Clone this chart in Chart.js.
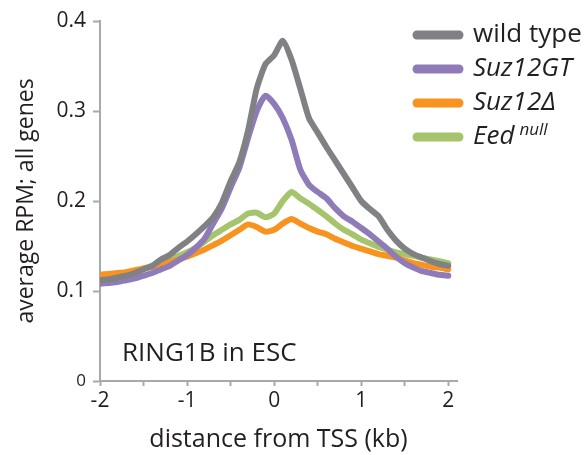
<!DOCTYPE html>
<html>
<head>
<meta charset="utf-8">
<script src="https://cdn.jsdelivr.net/npm/chart.js@4/dist/chart.umd.min.js"></script>
<style>
html,body{margin:0;padding:0;background:#fff;}
#wrap{position:relative;width:587px;height:455px;}
</style>
</head>
<body>
<div id="wrap"><canvas id="c" width="587" height="455"></canvas></div>
<script>
// distance from TSS (kb)
const positions = [-2.0,-1.9,-1.8,-1.7,-1.6,-1.5,-1.4,-1.3,-1.2,-1.1,-1.0,-0.9,-0.8,-0.7,-0.6,-0.5,-0.4,-0.3,-0.2,-0.1,0.0,0.1,0.2,0.3,0.4,0.5,0.6,0.7,0.8,0.9,1.0,1.1,1.2,1.3,1.4,1.5,1.6,1.7,1.8,1.9,2.0];
const seriesNames = ["wild type","Suz12GT","Suz12\u0394","Eed"];
const wildType = [0.112,0.113,0.115,0.117,0.120,0.124,0.128,0.135,0.140,0.148,0.155,0.163,0.172,0.182,0.198,0.222,0.243,0.278,0.325,0.352,0.362,0.378,0.357,0.325,0.292,0.276,0.260,0.245,0.230,0.215,0.200,0.191,0.183,0.168,0.156,0.147,0.141,0.137,0.133,0.130,0.128];
const suz12GT = [0.108,0.109,0.110,0.112,0.114,0.117,0.120,0.124,0.128,0.134,0.140,0.148,0.158,0.175,0.192,0.215,0.237,0.270,0.300,0.317,0.308,0.292,0.268,0.235,0.218,0.210,0.203,0.192,0.183,0.177,0.170,0.163,0.155,0.147,0.138,0.131,0.126,0.122,0.120,0.118,0.117];
const suz12Delta = [0.118,0.119,0.120,0.121,0.123,0.125,0.127,0.129,0.132,0.135,0.138,0.142,0.146,0.151,0.156,0.162,0.168,0.174,0.171,0.166,0.168,0.175,0.180,0.175,0.170,0.166,0.163,0.158,0.154,0.150,0.147,0.144,0.141,0.139,0.137,0.134,0.131,0.129,0.127,0.126,0.124];
const eedNull = [0.115,0.116,0.118,0.120,0.122,0.125,0.128,0.131,0.135,0.139,0.143,0.148,0.155,0.162,0.168,0.174,0.179,0.186,0.187,0.182,0.186,0.200,0.210,0.203,0.197,0.190,0.183,0.175,0.168,0.163,0.157,0.153,0.149,0.146,0.143,0.141,0.139,0.137,0.135,0.133,0.131];
const xTickValues = [-2,-1.5,-1,-0.5,0,0.5,1,1.5,2];
const xTickLabels = ["-2","","-1","","0","","1","","2"];
const yTickValues = [0,0.1,0.2,0.3,0.4];
const yTickLabels = ["0","0.1","0.2","0.3","0.4"];
const colors = ["#808184","#8F7BB8","#F7931E","#A6C46B"];

const FONT = "'Open Sans', sans-serif";
const AXIS_COLOR = "#a7a9ac";
const TEXT = "#231F20";

function toPoints(vals){ return positions.map((x,i)=>({x:x,y:vals[i]})); }
const allSeries = [wildType, suz12GT, suz12Delta, eedNull];

const legendPlugin = {
  id: 'customLegend',
  afterDraw(chart){
    const ctx = chart.ctx;
    ctx.save();
    const ys = [35,69,103,137];
    for(let i=0;i<4;i++){
      ctx.strokeStyle = colors[i];
      ctx.lineWidth = 9;
      ctx.lineCap = 'round';
      ctx.beginPath();
      ctx.moveTo(417, ys[i]);
      ctx.lineTo(459, ys[i]);
      ctx.stroke();
      ctx.fillStyle = TEXT;
      ctx.textBaseline = 'middle';
      ctx.textAlign = 'left';
      ctx.font = (i===0 ? '' : 'italic ') + '26px ' + FONT;
      ctx.fillText(seriesNames[i], 473, ys[i]);
      if(i===3){
        const w = ctx.measureText(seriesNames[i]).width;
        ctx.font = 'italic 17px ' + FONT;
        ctx.fillText('null', 473 + w + 5, ys[i]-7);
      }
    }
    ctx.font = '26px ' + FONT;
    ctx.fillStyle = TEXT;
    ctx.textBaseline = 'middle';
    ctx.fillText('RING1B in ESC', 122, 354);
    ctx.restore();
  }
};

new Chart(document.getElementById('c'), {
  type: 'line',
  data: {
    datasets: allSeries.map((s,i)=>({
      label: seriesNames[i],
      data: toPoints(s),
      borderColor: colors[i],
      backgroundColor: colors[i],
      borderWidth: 6,
      pointRadius: 0,
      tension: 0.2,
      borderCapStyle: 'round',
      borderJoinStyle: 'round',
      fill: false
    }))
  },
  options: {
    responsive: false,
    animation: false,
    devicePixelRatio: 1,
    layout: { padding: { top: 21, right: 130, left: 0, bottom: 0 } },
    plugins: { legend: { display: false }, tooltip: { enabled: false } },
    scales: {
      x: {
        type: 'linear',
        min: -2,
        max: 2.1,
        afterBuildTicks: s => { s.ticks = xTickValues.map(v=>({value:v})); },
        afterFit: s => { s.height = 74; },
        ticks: {
          callback: (v, i) => xTickLabels[i],
          color: TEXT,
          font: { family: FONT, size: 21 },
          padding: 2,
          maxRotation: 0,
          autoSkip: false
        },
        grid: { drawOnChartArea: false, drawTicks: true, tickLength: 5, color: AXIS_COLOR, tickWidth: 2 },
        border: { display: true, color: AXIS_COLOR, width: 2 },
        title: { display: true, text: 'distance from TSS (kb)', color: TEXT, font: { family: FONT, size: 25 }, padding: { top: 2, bottom: 0 } }
      },
      y: {
        type: 'linear',
        min: 0,
        max: 0.4,
        afterBuildTicks: s => { s.ticks = yTickValues.map(v=>({value:v})); },
        afterFit: s => { s.width = 100; },
        ticks: {
          callback: (v, i) => yTickLabels[i],
          color: TEXT,
          font: c => ({ family: FONT, size: (c.tick && c.tick.value === 0) ? 17 : 21 }),
          padding: 7
        },
        grid: { drawOnChartArea: false, drawTicks: true, tickLength: 7, color: AXIS_COLOR, tickWidth: 2 },
        border: { display: true, color: AXIS_COLOR, width: 2 },
        title: { display: true, text: 'average RPM; all genes', color: TEXT, font: { family: FONT, size: 23 }, padding: { top: 13, bottom: 0 } }
      }
    }
  },
  plugins: [legendPlugin]
});
</script>
</body>
</html>
